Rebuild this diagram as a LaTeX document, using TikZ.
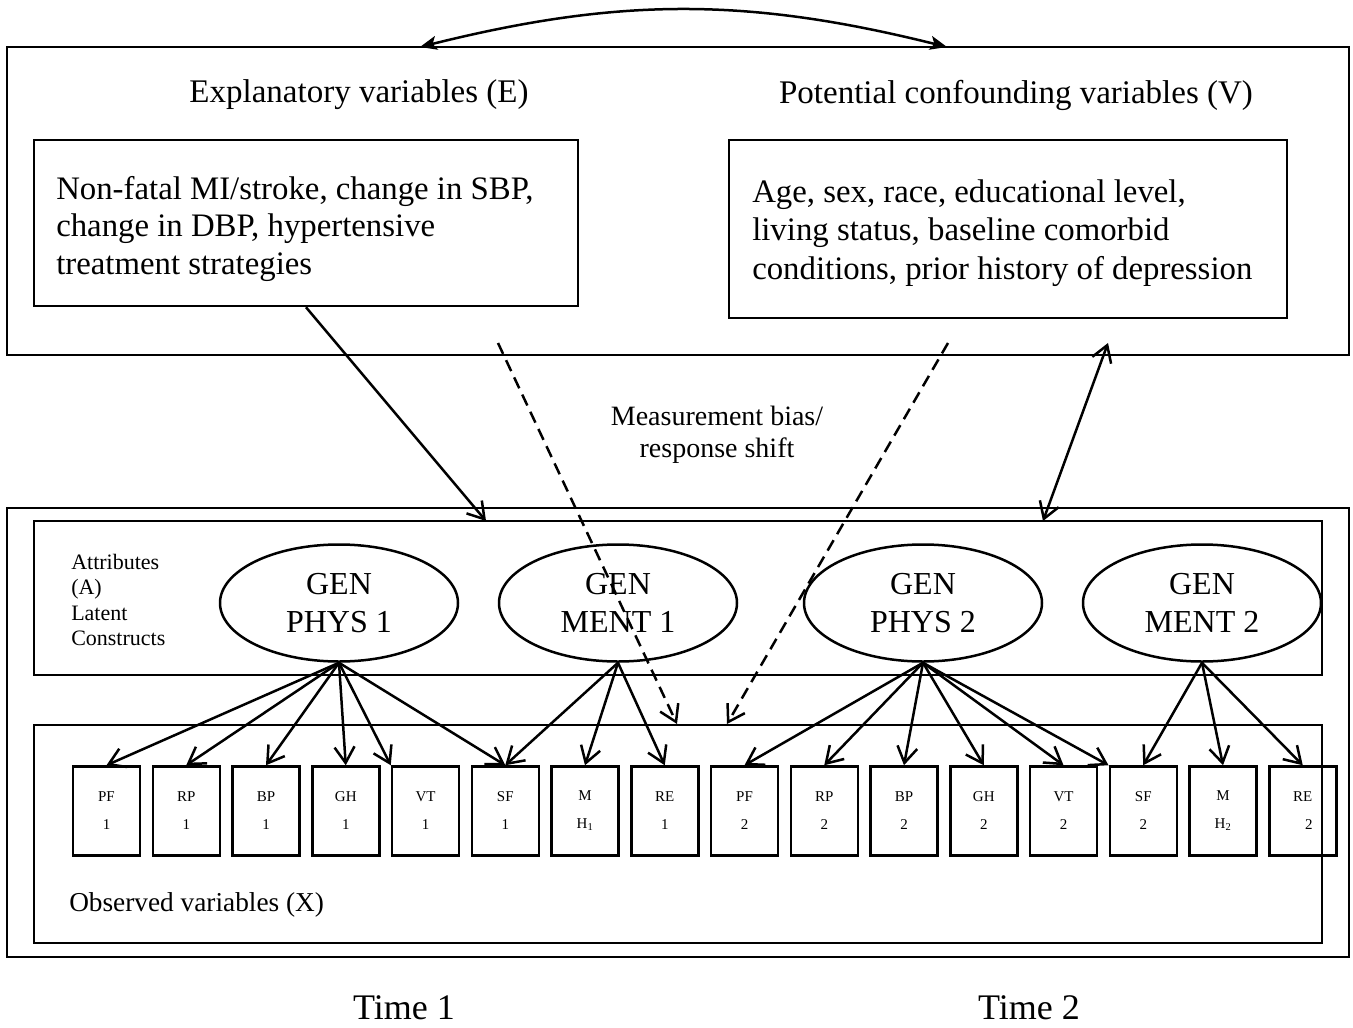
\documentclass[tikz,border=0pt]{standalone}
\usepackage{fontspec}
\setmainfont{Liberation Serif}
\usetikzlibrary{arrows.meta,positioning,shapes.geometric}

\begin{document}
\begin{tikzpicture}[x=1pt, y=-1pt, line width=2.5pt,
    frame/.style = {draw, inner sep=0pt},
    txtbox/.style = {draw, inner sep=0pt},
    latent/.style = {draw, ellipse, minimum width=238pt, minimum height=117pt, inner sep=0pt, align=center, font=\fontsize{32}{38}\selectfont},
    obs/.style = {draw, minimum width=67pt, minimum height=89pt, inner sep=0pt, align=center, font=\fontsize{15}{28}\selectfont},
    load/.style = {-{Straight Barb[length=16pt,width=20pt]}},
    bias/.style = {load, dash pattern=on 12pt off 7pt}]
  \useasboundingbox (0,0) rectangle (1353,1028);

  % upper part: E and V
  \node[frame, minimum width=1342pt, minimum height=308pt] (top) at (678,201) {};
  \node[font=\fontsize{33}{38}\selectfont] (ehead) at (359,95) {Explanatory variables (E)};
  \node[font=\fontsize{33}{38}\selectfont] (vhead) at (1016,95) {Potential confounding variables (V)};
  \node[txtbox, minimum width=544pt, minimum height=166pt] (expl) at (306,223) {};
  \node[anchor=north west, align=left, inner sep=0pt, font=\fontsize{32.8}{37.5}\selectfont] (expltxt) at (55,175)
    {Non-fatal MI/stroke, change in SBP,\\change in DBP, hypertensive\\treatment strategies};
  \node[txtbox, minimum width=558pt, minimum height=178pt] (conf) at (1008,229) {};
  \node[anchor=north west, align=left, inner sep=0pt, font=\fontsize{32.8}{38.5}\selectfont] (conftxt) at (751,178)
    {Age, sex, race, educational level,\\living status, baseline comorbid\\conditions, prior history of depression};
  \coordinate (eend) at (420,47);
  \coordinate (vend) at (947,47);
  \draw[{Stealth[length=17pt,width=14pt,inset=4pt]}-{Stealth[length=17pt,width=14pt,inset=4pt]}]
    (eend) to[bend left=14] (vend);

  \node[align=center, font=\fontsize{28}{32}\selectfont] (shift) at (717,435) {Measurement bias/\\response shift};

  % lower part: A and X
  \node[frame, minimum width=1342pt, minimum height=449pt] (bottom) at (678,732.5) {};
  \node[frame, minimum width=1288pt, minimum height=154pt] (attr) at (678,598) {};
  \node[frame, minimum width=1288pt, minimum height=218pt] (obsbox) at (678,834) {};
  \node[anchor=west, align=left, inner sep=0pt, font=\fontsize{22}{25.5}\selectfont] (alab) at (70,600)
    {Attributes\\(A)\\Latent\\Constructs};
  \node[anchor=west, inner sep=0pt, font=\fontsize{27.3}{32}\selectfont] (xlab) at (68,905) {Observed variables (X)};

  \node[latent] (phys1) at (339,603) {GEN\\PHYS 1};
  \node[latent] (ment1) at (618,603) {GEN\\MENT 1};
  \node[latent] (phys2) at (923,603) {GEN\\PHYS 2};
  \node[latent] (ment2) at (1202,603) {GEN\\MENT 2};

  \foreach \nm/\txt [count=\i from 0] in {pf1/PF\\1, rp1/RP\\1, bp1/BP\\1, gh1/GH\\1,
      vt1/VT\\1, sf1/SF\\1, mh1/M\\H\textsubscript{1}, re1/RE\\1,
      pf2/PF\\2, rp2/RP\\2, bp2/BP\\2, gh2/GH\\2,
      vt2/VT\\2, sf2/SF\\2, mh2/M\\H\textsubscript{2}, re2/RE\\\hspace*{12pt}2}
    \node[obs] (\nm) at ({106.5+79.75*\i},811) {\txt};

  % loadings
  \foreach \t in {pf1,rp1,bp1,gh1,sf1}
    \draw[load] (phys1.south) -- (\t.north);
  \draw[load] (phys1.south) -- (vt1.north west);
  \foreach \t in {sf1,mh1,re1}
    \draw[load] (ment1.south) -- (\t.north);
  \foreach \t in {pf2,rp2,bp2,gh2,vt2}
    \draw[load] (phys2.south) -- (\t.north);
  \draw[load] (phys2.south) -- (sf2.north west);
  \foreach \t in {sf2,mh2,re2}
    \draw[load] (ment2.south) -- (\t.north);

  % paths between the parts
  \coordinate (aend) at (486,521);
  \draw[load] (expl.south) -- (aend);
  \coordinate (b1s) at (498,343);
  \coordinate (b1e) at (677,724);
  \coordinate (b2s) at (948,343);
  \coordinate (b2e) at (727,724);
  \draw[bias] (b1s) -- (b1e);
  \draw[bias] (b2s) -- (b2e);
  \coordinate (vtop) at (1108,343);
  \coordinate (vbot) at (1043,521);
  \draw[{Straight Barb[length=16pt,width=20pt]}-{Straight Barb[length=16pt,width=20pt]}] (vbot) -- (vtop);

  \node[font=\fontsize{36}{40}\selectfont] (t1) at (404,1008) {Time 1};
  \node[font=\fontsize{36}{40}\selectfont] (t2) at (1029,1008) {Time 2};
\end{tikzpicture}
\end{document}
